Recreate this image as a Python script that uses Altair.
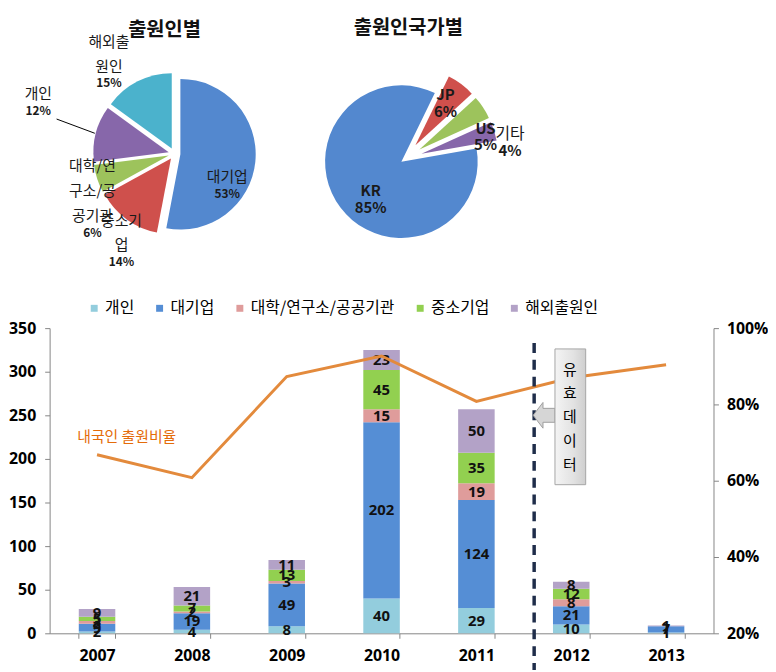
import altair as alt
import pandas as pd

# ---------------- data ----------------
years = ["2007", "2008", "2009", "2010", "2011", "2012", "2013"]
categories = ["개인", "대기업", "대학/연구소/공공기관", "중소기업", "해외출원인"]
v_gaein = [2, 4, 8, 40, 29, 10, 1]
v_daegiup = [9, 19, 49, 202, 124, 21, 7]
v_daehak = [3, 2, 3, 15, 19, 8, 0]
v_jungso = [5, 7, 13, 45, 35, 12, 0]
v_haeoe = [9, 21, 11, 23, 50, 8, 1]
domestic_ratio = [0.668, 0.608, 0.873, 0.927, 0.808, 0.870, 0.904]

pie1_cats = ["대기업", "중소기업", "대학/연구소/공공기관", "개인", "해외출원인"]
pie1_pct = [53, 14, 6, 12, 15]
pie1_text = ["대기업", "중소기\n업", "대학/연\n구소/공\n공기관", "개인", "해외출\n원인"]

pie2_cats = ["KR", "JP", "US", "기타"]
pie2_pct = [85, 6, 5, 4]

# ---------------- styles ----------------
KF = "Noto Sans CJK KR"
NF = "Open Sans"
bar_colors = ["#93CDDD", "#558ED5", "#DF9C9B", "#92D050", "#B3A2C7"]
pie1_colors = ["#5388CF", "#CF504C", "#9DC35C", "#8767AA", "#4BB2CC"]
pie2_colors = ["#5388CF", "#CF504C", "#9DC35C", "#8767AA"]
ORANGE = "#E38A3C"

# label placement (angle nudge in degrees from slice middle, radius in px)
pie1_label_layout = {"대기업": (32, 67), "중소기업": (-10, 122), "대학/연구소/공공기관": (-26, 115),
                     "개인": (3, 144), "해외출원인": (-16, 97)}
pie2_label_layout = {"KR": (-18, 61), "JP": (4, 62), "US": (24, 82), "기타": (13, 106)}

# ---------------- tables ----------------
rows = []
for ci, (cat, vals) in enumerate(zip(categories, [v_gaein, v_daegiup, v_daehak, v_jungso, v_haeoe])):
    for yr, v in zip(years, vals):
        rows.append({"year": yr, "category": cat, "value": v, "ord": ci})
bar_df = pd.DataFrame(rows)
line_df = pd.DataFrame({"year": years, "ratio": domestic_ratio})
pie1_df = pd.DataFrame({"cat": pie1_cats, "pct": pie1_pct, "name": pie1_text, "ord": list(range(len(pie1_cats)))})
pie2_df = pd.DataFrame({"cat": pie2_cats, "pct": pie2_pct, "name": pie2_cats, "ord": list(range(len(pie2_cats)))})


def tern(mapping, idx):
    expr = "0"
    for k, v in reversed(list(mapping.items())):
        expr = f"(datum.cat === '{k}' ? {v[idx]} : {expr})"
    return expr


def pie_base(df, cx, cy, rot_deg, explode_expr, layout, name_gap, line_h):
    return (alt.Chart(df)
            .transform_window(cum="sum(pct)", sort=[alt.SortField("ord", order="ascending")], frame=[None, 0])
            .transform_calculate(ts=f"{rot_deg}*PI/180 + 2*PI*(datum.cum - datum.pct)/100")
            .transform_calculate(te=f"{rot_deg}*PI/180 + 2*PI*datum.cum/100")
            .transform_calculate(mid="(datum.ts + datum.te)/2")
            .transform_calculate(ex=explode_expr)
            .transform_calculate(cx=f"{cx} + datum.ex*sin(datum.mid)")
            .transform_calculate(cy=f"{cy} - datum.ex*cos(datum.mid)")
            .transform_calculate(la=f"datum.mid + {tern(layout, 0)}*PI/180")
            .transform_calculate(lr=tern(layout, 1))
            .transform_calculate(lx=f"{cx} + datum.lr*sin(datum.la)")
            .transform_calculate(ly=f"{cy} - datum.lr*cos(datum.la)")
            .transform_calculate(nl="split(datum.name, '\\n').length")
            .transform_calculate(ny=f"datum.ly - {name_gap} - (datum.nl - 1)*{line_h}")
            .transform_calculate(pl="datum.pct + '%'"))


pie_color = alt.Scale(domain=pie1_cats + pie2_cats, range=pie1_colors + pie2_colors)


def PX(f):
    return alt.X(f, scale=None, axis=None)


def PY(f):
    return alt.Y(f, scale=None, axis=None)


# ---- pie 1 ----
C1X, C1Y, R1 = 126, 144, 76
LH1 = 25
p1 = pie_base(pie1_df, C1X, C1Y, 0, "6", pie1_label_layout, 9, LH1)
p1_arcs = p1.mark_arc(radius=R1).encode(
    theta=alt.Theta("ts:Q", scale=None, stack=None), theta2="te:Q",
    x=PX("cx:Q"), y=PY("cy:Q"), color=alt.Color("cat:N", scale=pie_color, legend=None))
p1_pct = p1.mark_text(font=KF, fontWeight="bold", fontSize=12, color="#1a1a1a", baseline="middle").encode(
    x=PX("lx:Q"), y=PY("ly:Q"), text="pl:N")
p1_names = p1.mark_text(font=KF, fontSize=15, color="#1a1a1a", baseline="bottom", lineBreak="\n",
                        lineHeight=LH1).encode(x=PX("lx:Q"), y=PY("ny:Q"), text="name:N")
p1_leader = (p1.transform_filter(alt.datum.cat == "개인")
             .transform_calculate(x1=f"{C1X} + 83*sin(datum.mid)", y1=f"{C1Y} - 83*cos(datum.mid)",
                                  x2=f"{C1X} + 124*sin(datum.mid + 2*PI/180)",
                                  y2=f"{C1Y} - 124*cos(datum.mid + 2*PI/180)")
             .mark_rule(color="#000000", strokeWidth=1)
             .encode(x=PX("x1:Q"), y=PY("y1:Q"), x2="x2:Q", y2="y2:Q"))

# ---- pie 2 ----
C2X, C2Y, R2 = 359, 149, 77
p2 = pie_base(pie2_df, C2X, C2Y, 80, "datum.pct > 50 ? 5 : 17", pie2_label_layout, 9, 25)
p2_arcs = p2.mark_arc(radius=R2).encode(
    theta=alt.Theta("ts:Q", scale=None, stack=None), theta2="te:Q",
    x=PX("cx:Q"), y=PY("cy:Q"), color=alt.Color("cat:N", scale=pie_color, legend=None))
p2_pct = p2.mark_text(font=KF, fontWeight="bold", fontSize=15, color="#1a1a1a", baseline="middle").encode(
    x=PX("lx:Q"), y=PY("ly:Q"), text="pl:N")
p2_names_b = p2.transform_filter(alt.datum.cat != "기타").mark_text(
    font=KF, fontWeight="bold", fontSize=15, color="#1a1a1a", baseline="bottom").encode(
    x=PX("lx:Q"), y=PY("ny:Q"), text="name:N")
p2_names_r = p2.transform_filter(alt.datum.cat == "기타").mark_text(
    font=KF, fontSize=16, color="#1a1a1a", baseline="bottom").encode(
    x=PX("lx:Q"), y=PY("ny:Q"), text="name:N")

dummy = pd.DataFrame({"a": [0]})
title1 = alt.Chart(dummy).mark_text(text="출원인별", font=KF, fontWeight="bold", fontSize=20,
                                    color="#111111").encode(x=alt.value(116), y=alt.value(19))
title2 = alt.Chart(dummy).mark_text(text="출원인국가별", font=KF, fontWeight="bold", fontSize=20,
                                    color="#111111").encode(x=alt.value(362), y=alt.value(17))

top = alt.layer(p1_arcs, p1_leader, p1_names, p1_pct, p2_arcs, p2_names_b, p2_names_r, p2_pct,
                title1, title2).properties(width=670, height=270)

# ---------------- bar + line chart ----------------
x_scale = alt.Scale(domain=years, paddingInner=0.615, paddingOuter=0.3075)
x_axis = alt.Axis(title=None, labelAngle=0, tickBand="extent", tickSize=5, labelPadding=9,
                  labelFont=NF, labelFontWeight="bold", labelFontSize=16, labelColor="#000000",
                  domainColor="#868686", tickColor="#868686", grid=False)


def BX():
    return alt.X("year:O", scale=x_scale, axis=x_axis)


y_count_scale = alt.Scale(domain=[0, 350])
y_left_axis = alt.Axis(title=None, values=list(range(0, 351, 50)), tickSize=5, labelPadding=9,
                       labelFont=NF, labelFontWeight="bold", labelFontSize=16, labelColor="#000000",
                       domainColor="#868686", tickColor="#868686", grid=False, orient="left")
y_ratio_scale = alt.Scale(domain=[0.2, 1.0])
y_right_axis = alt.Axis(title=None, values=[0.2, 0.4, 0.6, 0.8, 1.0], format=".0%", tickSize=5,
                        labelPadding=8, labelFont=NF, labelFontWeight="bold", labelFontSize=16,
                        labelColor="#000000", domainColor="#868686", tickColor="#868686",
                        grid=False, orient="right")

bars = alt.Chart(bar_df).mark_bar().encode(
    x=BX(),
    y=alt.Y("value:Q", stack="zero", scale=y_count_scale, axis=y_left_axis),
    color=alt.Color("category:N", scale=alt.Scale(domain=categories, range=bar_colors),
                    legend=alt.Legend(title=None, orient="none", legendX=37, legendY=-28,
                                      direction="horizontal", symbolType="square", symbolSize=49,
                                      symbolStrokeWidth=0, labelFont=KF, labelFontSize=16,
                                      labelColor="#000000", columnPadding=17, labelOffset=3)),
    order=alt.Order("ord:Q", sort="ascending"),
)
bar_labels = (alt.Chart(bar_df)
              .transform_filter("datum.value > 0")
              .transform_stack(stack="value", groupby=["year"], as_=["y0", "y1"],
                               sort=[alt.SortField("ord", order="ascending")])
              .transform_calculate(ymid="(datum.y0 + datum.y1)/2")
              .mark_text(font=NF, fontWeight="bold", fontSize=15, color="#111111", baseline="middle")
              .encode(x=BX(), y=alt.Y("ymid:Q", scale=y_count_scale, axis=y_left_axis), text="value:Q"))

line = alt.Chart(line_df).mark_line(color=ORANGE, strokeWidth=3).encode(
    x=BX(), y=alt.Y("ratio:Q", scale=y_ratio_scale, axis=y_right_axis))
line_label = (alt.Chart(line_df).transform_filter(alt.datum.year == years[0])
              .mark_text(text="내국인 출원비율", align="left", baseline="middle", dx=-20, dy=-18,
                         font=KF, fontSize=15, color="#E46C0A")
              .encode(x=BX(), y=alt.Y("ratio:Q", scale=y_ratio_scale, axis=y_right_axis)))

divider = alt.Chart(dummy).mark_rule(color="#1F2D4A", strokeWidth=3.5, strokeDash=[10, 7]).encode(
    x=alt.value(489), y=alt.value(15), y2=alt.value(345))

ARROW = "M -1 0 L -0.1 -1.18 L -0.1 -0.64 L 1 -0.64 L 1 0.64 L -0.1 0.64 L -0.1 1.18 Z"
arrow = alt.Chart(dummy).mark_point(shape=ARROW, size=484, filled=True, color="#D6D6D6",
                                    stroke="#9E9E9E", strokeWidth=1, opacity=1).encode(
    x=alt.value(499), y=alt.value(88))
box_fill = alt.Gradient(gradient="linear", x1=0, y1=0, x2=1, y2=0,
                        stops=[alt.GradientStop(color="#F4F4F4", offset=0),
                               alt.GradientStop(color="#E2E2E2", offset=0.6),
                               alt.GradientStop(color="#CFCFCF", offset=1)])
box = alt.Chart(dummy).mark_rect(fill=box_fill, stroke="#A6A6A6", strokeWidth=1).encode(
    x=alt.value(510), x2=alt.value(541), y=alt.value(21), y2=alt.value(158))
box_text = alt.Chart(dummy).mark_text(text="유\n효\n데\n이\n터", lineBreak="\n", lineHeight=24,
                                      font=KF, fontSize=15, color="#000000", baseline="middle",
                                      align="center").encode(x=alt.value(525), y=alt.value(42))

bottom = alt.layer(
    alt.layer(bars, bar_labels),
    alt.layer(line, line_label),
    divider, arrow, box, box_text,
).resolve_scale(y="independent").properties(width=670, height=308)

chart = (alt.vconcat(top, bottom, spacing=22)
         .resolve_scale(color="independent")
         .properties(padding=0)
         .configure_view(stroke=None))

chart.save("out.html", embed_options={"renderer": "svg", "actions": False})
